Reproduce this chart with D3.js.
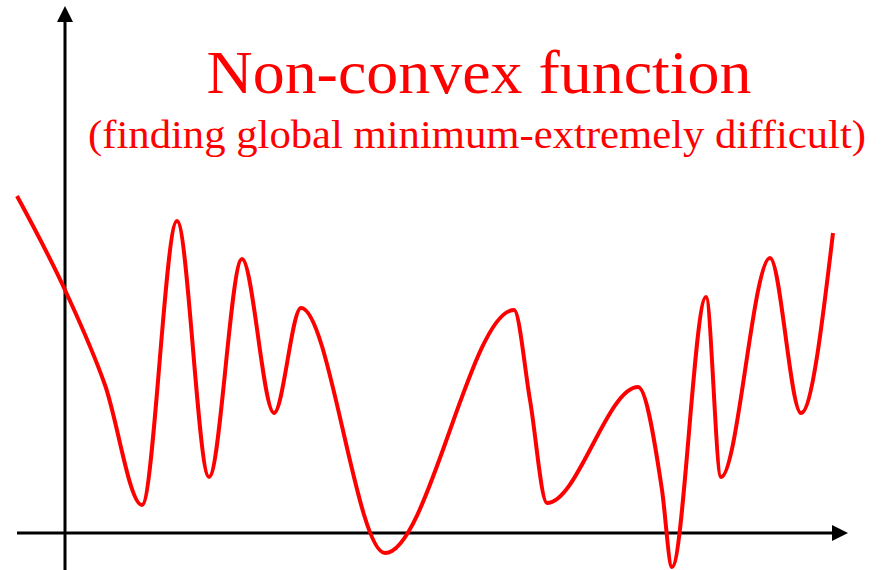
<!DOCTYPE html>
<html>
<head>
<meta charset="utf-8">
<script src="https://cdn.jsdelivr.net/npm/d3@7"></script>
<style>
  body { margin: 0; background: #fff; }
  svg { display: block; }
</style>
</head>
<body>
<div id="chart"></div>
<script>
// curve: x and y in axis units (origin where the axes cross)
var xVals = [-0.48, 0.00, 0.40, 0.77, 1.12, 1.44, 1.77, 2.09, 2.36, 3.20,
             4.49, 4.65, 4.82, 5.73, 5.97, 6.07, 6.41, 6.56, 7.05, 7.36, 7.68];
var yVals = [3.37, 2.43, 1.48, 0.28, 3.12, 0.56, 2.74, 1.20, 2.25, -0.20,
             2.23, 1.33, 0.30, 1.46, 0.43, -0.34, 2.36, 0.56, 2.75, 1.20, 3.00];

var xDomain = [-0.48, 7.83];
var yDomain = [-0.37, 5.27];

var title = "Non-convex function";
var subtitle = "(finding global minimum-extremely difficult)";

var width = 881, height = 570;

var svg = d3.select("#chart").append("svg")
    .attr("width", width)
    .attr("height", height);

var xScale = d3.scaleLinear()
    .domain(xDomain)
    .range([17, 848]);

var yScale = d3.scaleLinear()
    .domain(yDomain)
    .range([570, 6]);

var data = xVals.map(function(d, i) { return {x: d, y: yVals[i]}; });

// axes, no ticks
svg.append("line")
    .attr("x1", xScale(xDomain[0])).attr("x2", xScale(xDomain[1]) - 10)
    .attr("y1", yScale(0)).attr("y2", yScale(0))
    .attr("stroke", "#000").attr("stroke-width", 3);

svg.append("line")
    .attr("x1", xScale(0)).attr("x2", xScale(0))
    .attr("y1", yScale(yDomain[0])).attr("y2", yScale(yDomain[1]) + 10)
    .attr("stroke", "#000").attr("stroke-width", 3);

// arrow heads
var ox = xScale(0), oy = yScale(0);
var xt = xScale(xDomain[1]), yt = yScale(yDomain[1]);
svg.append("path")
    .attr("d", "M" + xt + "," + oy + "L" + (xt - 16) + "," + (oy - 8) + "L" + (xt - 16) + "," + (oy + 8) + "Z")
    .attr("fill", "#000");
svg.append("path")
    .attr("d", "M" + ox + "," + yt + "L" + (ox - 8) + "," + (yt + 16) + "L" + (ox + 8) + "," + (yt + 16) + "Z")
    .attr("fill", "#000");

var line = d3.line()
    .x(function(d) { return xScale(d.x); })
    .y(function(d) { return yScale(d.y); })
    .curve(d3.curveMonotoneX);

svg.append("path")
    .datum(data)
    .attr("d", line)
    .attr("fill", "none")
    .attr("stroke", "#ff0000")
    .attr("stroke-width", 4)
    .attr("stroke-linejoin", "round");

// titles
svg.append("text")
    .attr("x", 479).attr("y", 93)
    .attr("text-anchor", "middle")
    .attr("font-family", "'Liberation Serif', 'Times New Roman', serif")
    .attr("font-size", 61)
    .attr("fill", "#ff0000")
    .attr("textLength", 545)
    .attr("lengthAdjust", "spacingAndGlyphs")
    .text(title);

svg.append("text")
    .attr("x", 477).attr("y", 148)
    .attr("text-anchor", "middle")
    .attr("font-family", "'Liberation Serif', 'Times New Roman', serif")
    .attr("font-size", 40)
    .attr("fill", "#ff0000")
    .attr("textLength", 778)
    .attr("lengthAdjust", "spacingAndGlyphs")
    .text(subtitle);
</script>
</body>
</html>
